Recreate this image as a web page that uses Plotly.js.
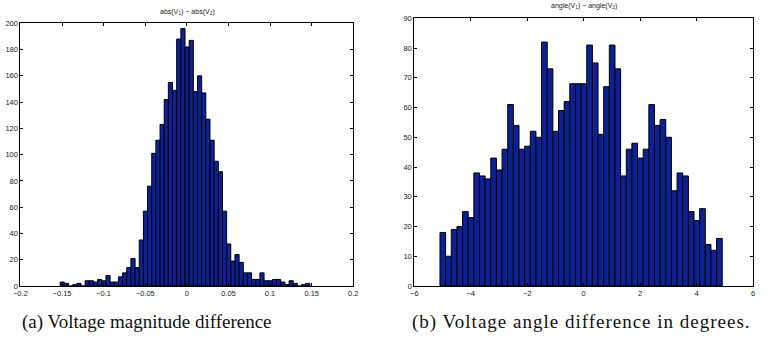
<!DOCTYPE html>
<html><head><meta charset="utf-8">
<script src="https://cdn.plot.ly/plotly-3.0.1.min.js"></script>
<style>html,body{margin:0;padding:0;background:#fff}#chart{width:769px;height:339px}
.annotation[data-index="3"] .annotation-text{letter-spacing:1px}
</style>
</head><body><div id="chart"></div>
<script>
// (a) magnitude difference histogram
const magFirstBinCenter = -0.1497;
const magBinWidth = 0.005;
const magCounts = [3,2,0,1,2,0,4,4,3,5,4,8,3,3,7,10,14,21,14,35,57,76,101,111,123,142,155,149,188,196,
                   182,187,148,160,147,127,111,95,87,57,32,19,24,18,10,10,5,5,10,4,4,5,5,3,1,4,2,0,1,2];
const magXTicks = [-0.2,-0.15,-0.1,-0.05,0,0.05,0.1,0.15,0.2];
const magXTickText = ['\u22120.2','\u22120.15','\u22120.1','\u22120.05','0','0.05','0.1','0.15','0.2'];
const magYTicks = [0,20,40,60,80,100,120,140,160,180,200];

// (b) angle difference histogram
const angFirstBinCenter = -4.99;
const angBinWidth = 0.2;
const angCounts = [18,10,19,20,25,23,38,37,36,43,39,46,61,54,46,47,52,50,82,73,52,59,62,68,68,
                   68,81,75,51,67,81,73,37,46,48,43,46,61,54,56,50,32,38,37,25,22,26,14,12,16];
const angXTicks = [-6,-4,-2,0,2,4,6];
const angXTickText = ['\u22126','\u22124','\u22122','0','2','4','6'];
const angYTicks = [0,10,20,30,40,50,60,70,80,90];

const magTitle = 'abs(V<sub>1</sub>) \u2212 abs(V<sub>2</sub>)';
const angTitle = 'angle(V<sub>1</sub>) \u2212 angle(V<sub>2</sub>)';
const captionA = '(a) Voltage magnitude difference';
const captionB = '(b) Voltage angle difference in degrees.';

const magX = magCounts.map((_, i) => magFirstBinCenter + i * magBinWidth);
const angX = angCounts.map((_, i) => angFirstBinCenter + i * angBinWidth);

const barColor = '#0b2196';
const W = 769, H = 339;
const tickFont = {family: 'Liberation Sans, Arial, sans-serif', size: 7.5, color: '#222'};

function axisCommon(extra) {
  return Object.assign({
    showline: true, linecolor: '#000', linewidth: 1, mirror: 'ticks',
    ticks: 'inside', ticklen: 3, tickcolor: '#000', tickwidth: 1,
    showgrid: false, zeroline: false, tickfont: tickFont, fixedrange: true
  }, extra);
}

const traces = [
  {type: 'bar', x: magX, y: magCounts, width: magBinWidth, xaxis: 'x', yaxis: 'y',
   marker: {color: barColor, line: {color: '#000', width: 1}}, hoverinfo: 'x+y'},
  {type: 'bar', x: angX, y: angCounts, width: angBinWidth, xaxis: 'x2', yaxis: 'y2',
   marker: {color: barColor, line: {color: '#000', width: 1}}, hoverinfo: 'x+y'}
];

const layout = {
  width: W, height: H, margin: {l: 0, r: 0, t: 0, b: 0},
  paper_bgcolor: '#fff', plot_bgcolor: '#fff', showlegend: false, bargap: 0,
  xaxis: axisCommon({domain: [20.4 / W, 353.3 / W], range: [-0.2, 0.2], anchor: 'y',
    tickmode: 'array', tickvals: magXTicks, ticktext: magXTickText}),
  yaxis: axisCommon({domain: [(H - 286) / H, (H - 23.3) / H], range: [0, 200], anchor: 'x',
    tickmode: 'array', tickvals: magYTicks}),
  xaxis2: axisCommon({domain: [414.3 / W, 753 / W], range: [-6, 6], anchor: 'y2',
    tickmode: 'array', tickvals: angXTicks, ticktext: angXTickText}),
  yaxis2: axisCommon({domain: [(H - 286) / H, (H - 18.3) / H], range: [0, 90], anchor: 'x2',
    tickmode: 'array', tickvals: angYTicks}),
  annotations: [
    {text: magTitle, xref: 'paper', yref: 'paper', x: 187 / W, y: (H - 12) / H,
     xanchor: 'center', yanchor: 'middle', showarrow: false,
     font: {family: 'Liberation Sans, Arial, sans-serif', size: 7, color: '#222'}},
    {text: angTitle, xref: 'paper', yref: 'paper', x: 584 / W, y: (H - 6) / H,
     xanchor: 'center', yanchor: 'middle', showarrow: false,
     font: {family: 'Liberation Sans, Arial, sans-serif', size: 7, color: '#222'}},
    {text: captionA, xref: 'paper', yref: 'paper', x: 147 / W, y: (H - 322) / H,
     xanchor: 'center', yanchor: 'middle', showarrow: false,
     font: {family: 'Liberation Serif, Times New Roman, serif', size: 19, color: '#111'}},
    {text: captionB, xref: 'paper', yref: 'paper', x: 581 / W, y: (H - 322) / H,
     xanchor: 'center', yanchor: 'middle', showarrow: false,
     font: {family: 'Liberation Serif, Times New Roman, serif', size: 19, color: '#111'}}
  ]
};

Plotly.newPlot('chart', traces, layout, {staticPlot: true, displayModeBar: false});
</script>
</body></html>
